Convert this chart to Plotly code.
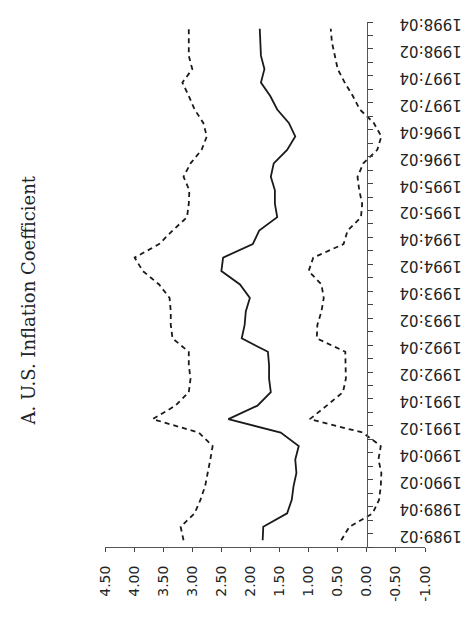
import plotly.graph_objects as go

# Quarterly observations, 1989:02 through 1998:04
quarters = [
    "1989:02", "1989:03", "1989:04",
    "1990:01", "1990:02", "1990:03", "1990:04",
    "1991:01", "1991:02", "1991:03", "1991:04",
    "1992:01", "1992:02", "1992:03", "1992:04",
    "1993:01", "1993:02", "1993:03", "1993:04",
    "1994:01", "1994:02", "1994:03", "1994:04",
    "1995:01", "1995:02", "1995:03", "1995:04",
    "1996:01", "1996:02", "1996:03", "1996:04",
    "1997:01", "1997:02", "1997:03", "1997:04",
    "1998:01", "1998:02", "1998:03", "1998:04",
]

# Estimated inflation coefficient
coef = [1.79, 1.78, 1.37, 1.29, 1.26, 1.21, 1.23, 1.17, 1.48, 2.38,
        1.88, 1.65, 1.68, 1.68, 1.70, 2.15, 2.10, 2.08, 2.01, 2.18,
        2.50, 2.47, 1.96, 1.85, 1.54, 1.58, 1.58, 1.65, 1.60, 1.37,
        1.23, 1.34, 1.54, 1.66, 1.82, 1.76, 1.82, 1.83, 1.84]

# Upper and lower confidence bands
upper = [3.15, 3.20, 2.96, 2.86, 2.78, 2.73, 2.69, 2.65, 2.89, 3.68,
         3.29, 3.06, 3.03, 3.06, 3.06, 3.34, 3.37, 3.37, 3.39, 3.57,
         3.85, 3.99, 3.57, 3.34, 3.09, 3.06, 3.05, 3.15, 3.03, 2.84,
         2.75, 2.81, 2.96, 3.06, 3.17, 3.00, 3.06, 3.06, 3.06]

lower = [0.44, 0.30, -0.10, -0.21, -0.24, -0.25, -0.20, -0.24, 0.07, 0.98,
         0.69, 0.41, 0.36, 0.36, 0.37, 0.86, 0.85, 0.78, 0.74, 0.78,
         1.00, 0.92, 0.40, 0.33, 0.10, 0.08, 0.13, 0.16, 0.06, -0.18,
         -0.25, -0.12, 0.12, 0.24, 0.38, 0.50, 0.55, 0.60, 0.62]

# Value-axis ticks and their printed labels
value_ticks = [4.5, 4.0, 3.5, 3.0, 2.5, 2.0, 1.5, 1.0, 0.5, 0.0, -0.5, -1.0]
value_labels = ["4.50", "4.00", "3.50", "3.00", "2.50", "2.00",
                "1.50", "1.00", "0.50", "0.00", "-0.50", "-1.00"]

value_max, value_min = 4.5, -1.0
ink = "#1a1a1a"
dash_style = dict(color=ink, width=1.8, dash="5px,4px")

fig = go.Figure()
fig.add_trace(go.Scatter(x=upper, y=quarters, mode="lines", line=dash_style,
                         name="Upper bound"))
fig.add_trace(go.Scatter(x=coef, y=quarters, mode="lines",
                         line=dict(color=ink, width=1.8), name="Coefficient"))
fig.add_trace(go.Scatter(x=lower, y=quarters, mode="lines", line=dash_style,
                         name="Lower bound"))

# the quarter axis crosses the value axis at zero
zero_pos = (value_max - 0.0) / (value_max - value_min)

fig.update_layout(
    width=474, height=619,
    margin=dict(l=105, r=44, t=22, b=72),
    plot_bgcolor="white", paper_bgcolor="white",
    showlegend=False,
    xaxis=dict(
        range=[value_max, value_min],
        tickmode="array", tickvals=value_ticks, ticktext=value_labels,
        tickangle=-90, ticks="outside", ticklen=4, tickcolor="#444",
        showline=True, linecolor="#555", linewidth=1,
        showgrid=False, zeroline=False, ticklabelstandoff=8,
        tickfont=dict(family="DejaVu Sans", size=14, color="#222"),
    ),
    yaxis=dict(
        type="category", categoryorder="array", categoryarray=quarters,
        range=[-0.5, len(quarters) - 0.5],
        anchor="free", position=zero_pos, side="right",
        tickmode="linear", tick0=0, dtick=1, ticklabelstep=2,
        tickson="boundaries", ticks="outside", ticklen=5, tickcolor="#444",
        tickangle=180, ticklabelstandoff=91,
        showline=True, linecolor="#555", linewidth=1,
        showgrid=False, zeroline=False,
        tickfont=dict(family="DejaVu Sans", size=15, color="#222"),
    ),
    annotations=[dict(
        text="A. U.S. Inflation Coefficient", xref="paper", yref="paper",
        x=-0.24, y=0.47, xanchor="center", yanchor="middle",
        textangle=-90, showarrow=False,
        font=dict(family="DejaVu Serif", size=18, color="#222"),
    )],
)

fig.write_html("out.html")
